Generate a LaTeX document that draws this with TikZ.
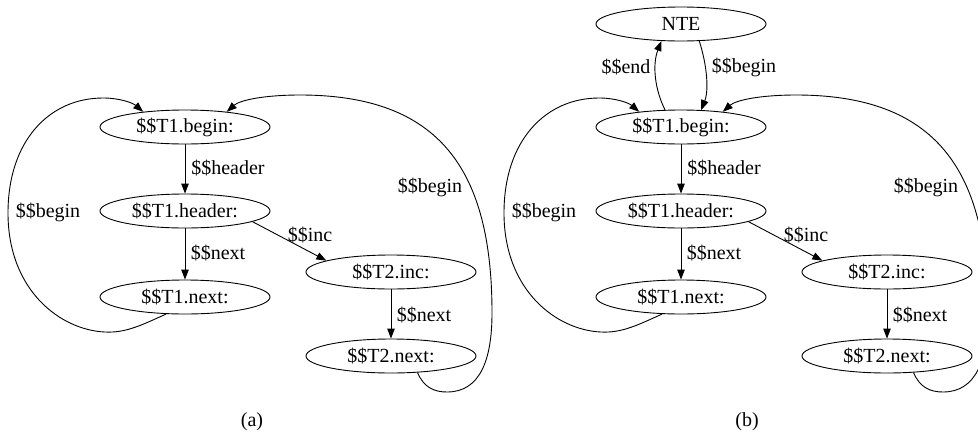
\documentclass[tikz,border=0pt]{standalone}
\usepackage{fontspec}
\setmainfont{Liberation Serif}
\usetikzlibrary{shapes.geometric,arrows.meta}
\tikzset{
  st/.style={draw, ellipse, minimum width=170pt, minimum height=34pt, inner sep=0pt, line width=0.9pt, font=\fontsize{20}{24}\selectfont},
  lbl/.style={inner sep=0pt, font=\fontsize{20}{24}\selectfont},
  captxt/.style={inner sep=0pt, font=\fontsize{20}{24}\selectfont},
  conn/.style={line width=0.9pt, -{Triangle[length=10pt,width=7.5pt]}}
}
\begin{document}
\begin{tikzpicture}[x=1pt,y=-1pt]
\useasboundingbox (0,0) rectangle (978,437);
\clip (0,0) rectangle (978,437);
% ---------------- panel (a)
\node[st] (a-t1b) at (185,127) {\$\$T1.begin:};
\node[st] (a-t1h) at (185,211) {\$\$T1.header:};
\node[st] (a-t1n) at (185,297) {\$\$T1.next:};
\node[st] (a-t2i) at (391,272) {\$\$T2.inc:};
\node[st] (a-t2n) at (391,356) {\$\$T2.next:};
\draw[conn] (a-t1b) -- (a-t1h);
\draw[conn] (a-t1h) -- (a-t1n);
\draw[conn] (a-t1h.-9) -- (a-t2i.170);
\draw[conn] (a-t2i) -- (a-t2n);
\draw[conn] (a-t1n.222) .. controls (140,326) and (125,333) .. (105,332)
  .. controls (60,330) and (8,290) .. (8,213)
  .. controls (8,140) and (50,98) .. (103,98)
  .. controls (120,98) and (133,103) .. (a-t1b.160);
\draw[conn] (a-t2n.-32) .. controls (424,388) and (435,392) .. (447,392)
  .. controls (480,392) and (492,360) .. (492,313)
  .. controls (492,170) and (440,95) .. (300,95)
  .. controls (265,95) and (240,100) .. (a-t1b.20);
\node[lbl] (a-lhead) at (228,168) {\$\$header};
\node[lbl] (a-lnext1) at (218,253) {\$\$next};
\node[lbl] (a-linc) at (310,235) {\$\$inc};
\node[lbl] (a-lnext2) at (424,315) {\$\$next};
\node[lbl] (a-lbegr) at (430,187) {\$\$begin};
\node[lbl] (a-lbegl) at (48,212) {\$\$begin};
\node[captxt] (a-cap) at (252,422) {(a)};
% ---------------- panel (b)
\begin{scope}[xshift=496pt]
\node[st] (b-nte) at (185,24) {NTE};
\node[st] (b-t1b) at (185,127) {\$\$T1.begin:};
\node[st] (b-t1h) at (185,211) {\$\$T1.header:};
\node[st] (b-t1n) at (185,297) {\$\$T1.next:};
\node[st] (b-t2i) at (391,272) {\$\$T2.inc:};
\node[st] (b-t2n) at (391,356) {\$\$T2.next:};
\draw[conn] (b-t1b) -- (b-t1h);
\draw[conn] (b-t1h) -- (b-t1n);
\draw[conn] (b-t1h.-9) -- (b-t2i.170);
\draw[conn] (b-t2i) -- (b-t2n);
\draw[conn] (b-t1b.133) .. controls (159,90) and (156,65) .. (b-nte.-139);
\draw[conn] (b-nte.-43) .. controls (211,65) and (213,90) .. (b-t1b.40);
\draw[conn] (b-t1n.222) .. controls (140,326) and (125,333) .. (105,332)
  .. controls (60,330) and (8,290) .. (8,213)
  .. controls (8,140) and (50,98) .. (103,98)
  .. controls (120,98) and (133,103) .. (b-t1b.160);
\draw[conn] (b-t2n.-32) .. controls (424,388) and (435,392) .. (447,392)
  .. controls (480,392) and (492,360) .. (492,313)
  .. controls (492,170) and (440,95) .. (300,95)
  .. controls (265,95) and (240,100) .. (b-t1b.20);
\node[lbl] (b-lend) at (130,67) {\$\$end};
\node[lbl] (b-lbegn) at (248,67) {\$\$begin};
\node[lbl] (b-lhead) at (228,168) {\$\$header};
\node[lbl] (b-lnext1) at (218,253) {\$\$next};
\node[lbl] (b-linc) at (310,235) {\$\$inc};
\node[lbl] (b-lnext2) at (424,315) {\$\$next};
\node[lbl] (b-lbegr) at (430,187) {\$\$begin};
\node[lbl] (b-lbegl) at (48,212) {\$\$begin};
\node[captxt] (b-cap) at (251,422) {(b)};
\end{scope}
\end{tikzpicture}
\end{document}
